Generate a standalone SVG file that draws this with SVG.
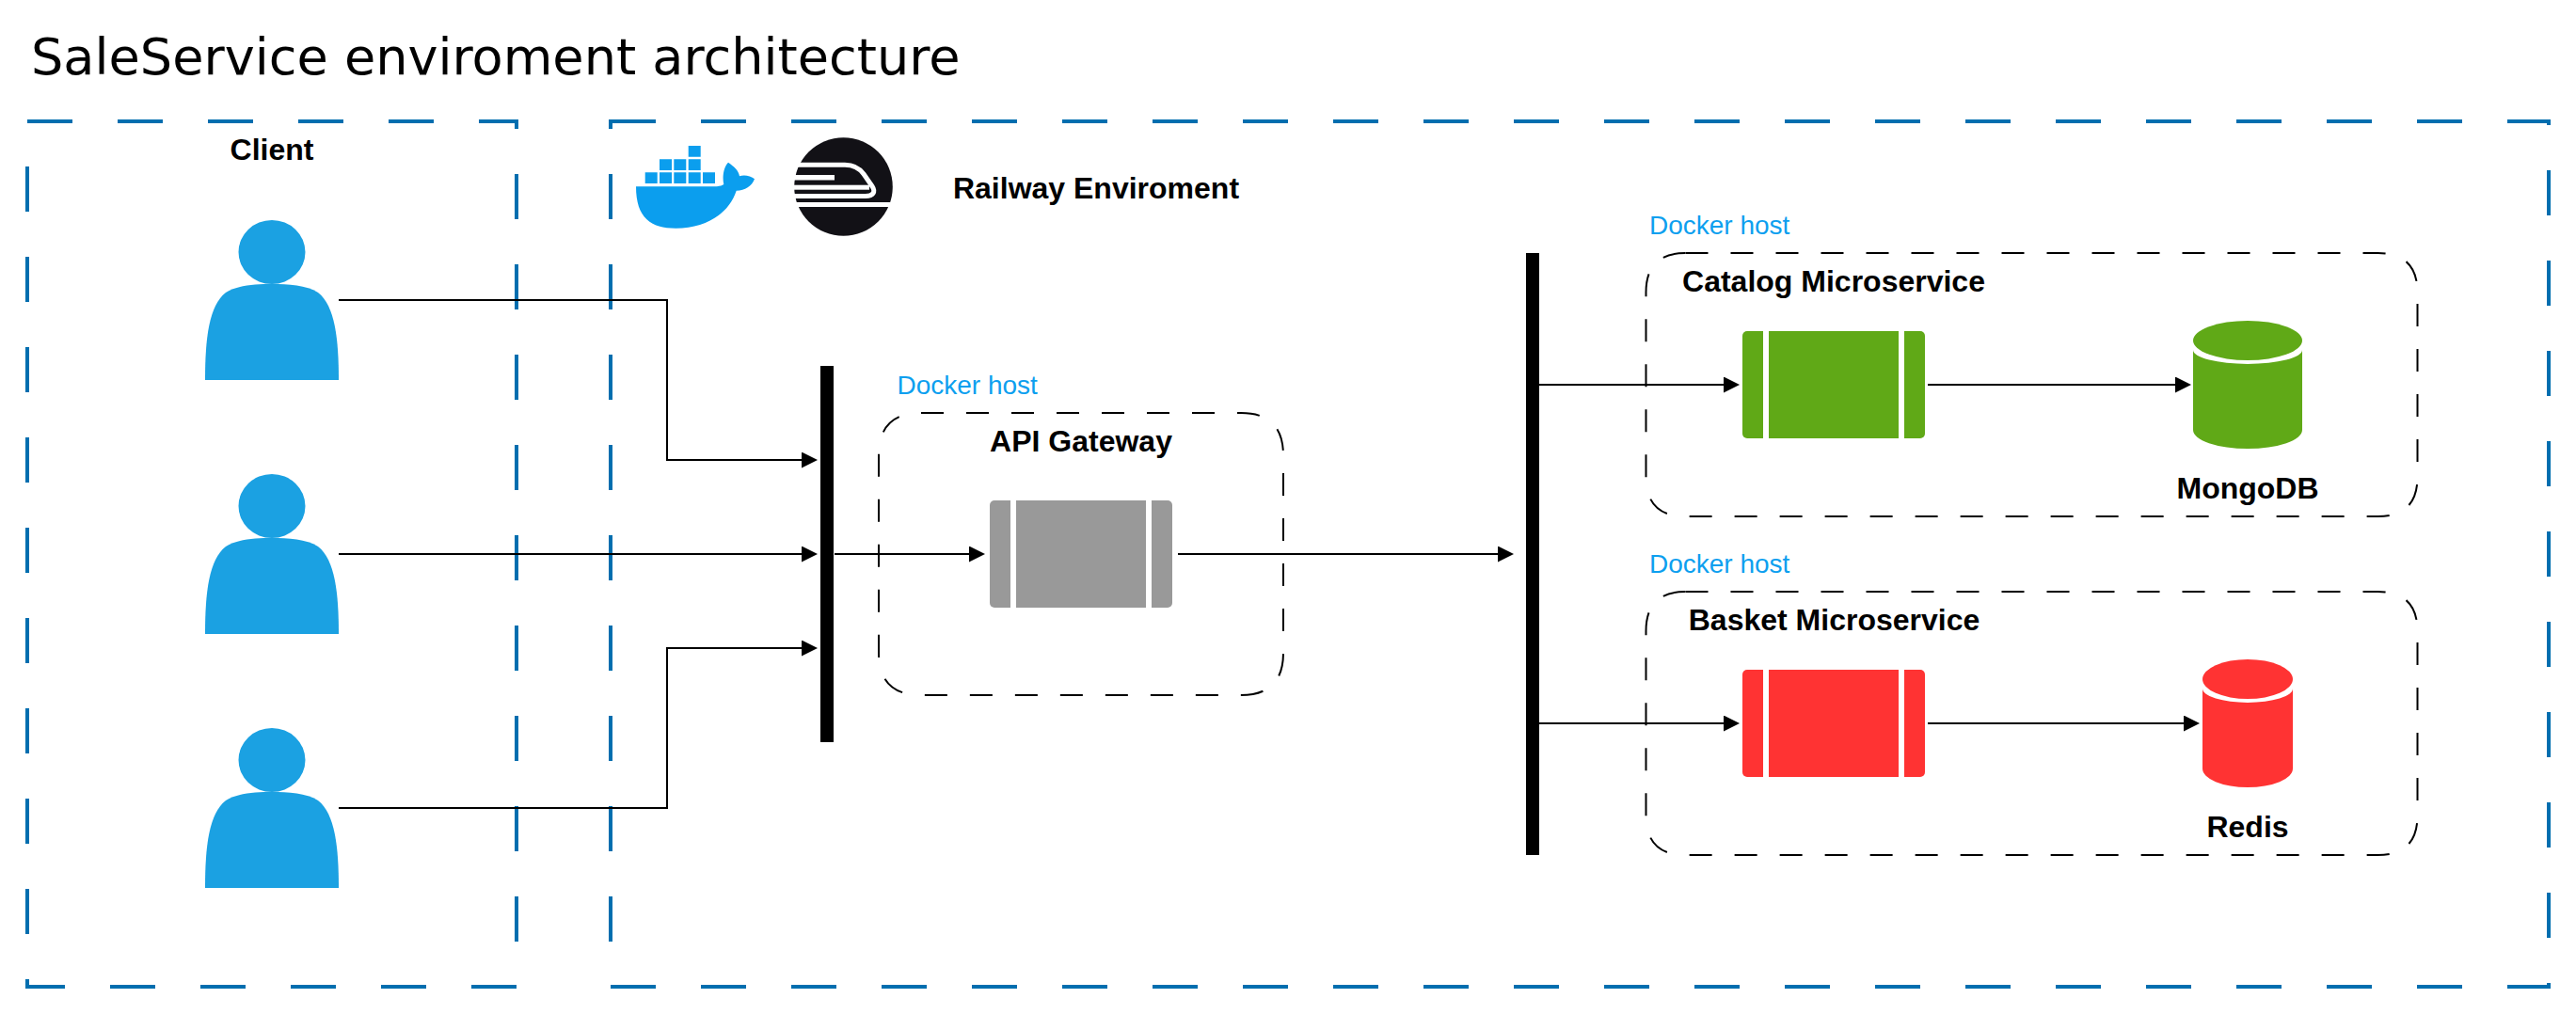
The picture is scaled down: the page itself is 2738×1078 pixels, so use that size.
<svg xmlns="http://www.w3.org/2000/svg" width="2738" height="1078" viewBox="0 0 2738 1078">
<style>
text{font-family:"Liberation Sans",Arial,sans-serif;fill:#000}
.b{font-weight:700;font-size:32px;text-anchor:middle}
.h{font-size:28px;fill:#0D9FEF}
.env{fill:none;stroke:#006EAF;stroke-width:4;stroke-dasharray:48 48}
.host{fill:none;stroke:#000;stroke-width:2;stroke-dasharray:24 24}
.person{fill:#1BA1E2}
.bar{fill:#000}
.strip{stroke:#fff;stroke-width:6}
.c{fill:none;stroke:#000;stroke-width:2;marker-end:url(#a)}
.rw{fill:none;stroke:#fff;stroke-width:5}
</style>
<defs>
<marker id="a" markerUnits="userSpaceOnUse" markerWidth="17" markerHeight="17" refX="15" refY="8.5" orient="auto"><path d="M0 0L17 8.5L0 17Z" fill="#000"/></marker>
<g id="p"><ellipse cx="289" cy="268" rx="35.5" ry="34"/><path d="M218 404C218 360 222 325 240 311C252 303 272 302 289 302C306 302 326 303 338 311C356 325 360 360 360 404Z"/></g>
</defs>
<rect width="2738" height="1078" fill="#fff"/>
<text id="title" x="33" y="79" style='font-family:"DejaVu Sans",Verdana,sans-serif;font-size:54.1px'>SaleService enviroment architecture</text>
<g id="client-env"><rect class="env" x="29" y="129" width="520" height="920"/><text class="b" x="289" y="170">Client</text></g>
<g id="railway-env"><rect class="env" x="649" y="129" width="2060" height="920"/><text class="b" x="1165" y="211">Railway Enviroment</text></g>
<g id="docker-logo" fill="#0B9EEE">
<path d="M685.7 183.3h13v11.7h-13zM701 183.3h13v11.7h-13zM716.3 183.3h13v11.7h-13zM731.7 183.3h13v11.7h-13zM747 183.3h13v11.7h-13zM701 169.3h13v11.7h-13zM716.3 169.3h13v11.7h-13zM731.7 169.3h13v11.7h-13zM731.7 155h13v11.7h-13z"/>
<path d="M676 198.3L758 198.3C764 198.3 767 197.5 769.3 196C767.5 188 769 178 774 172.7C780 177 785 181 786 187.3C790 185.5 798 186.5 802 190.3C799 198 792 202.7 782.7 202.7C775 226 752 242.7 718.3 242.7C692 242.7 676 232 676 198.3Z"/>
</g>
<g id="railway-logo">
<circle cx="896.5" cy="198.5" r="52.3" fill="#121116"/>
<path class="rw" d="M843 175.2H898C907 175.2 913 178 918 185L927 198C931 204 928 208.5 920 208.5H843"/>
<rect x="843" y="186" width="44" height="5.5" fill="#fff"/>
<rect x="843" y="196.7" width="81" height="5" fill="#fff"/>
<rect x="843" y="215" width="106" height="5" fill="#fff"/>
</g>
<g id="person-1" class="person"><use href="#p"/></g>
<g id="person-2" class="person"><use href="#p" y="270"/></g>
<g id="person-3" class="person"><use href="#p" y="540"/></g>
<g id="bar-1"><rect class="bar" x="872" y="389" width="14" height="400"/></g>
<g id="bar-2"><rect class="bar" x="1622" y="269" width="14" height="640"/></g>
<g id="gateway-host"><path class="host" d="M979 439H1319Q1364 439 1364 484V694Q1364 739 1319 739H979Q934 739 934 694V484Q934 439 979 439Z"/><text class="h" x="953.5" y="419">Docker host</text><text class="b" x="1149" y="480">API Gateway</text></g>
<g id="gateway"><rect x="1052" y="532" width="194" height="114" rx="5" fill="#999"/><path class="strip" d="M1077 532V646M1221 532V646"/></g>
<g id="catalog-host"><path class="host" d="M1792 269H2528Q2570 269 2570 311V507Q2570 549 2528 549H1792Q1750 549 1750 507V311Q1750 269 1792 269Z" transform="translate(-.5 0)"/><text class="h" x="1753" y="249">Docker host</text><text class="b" x="1949" y="310">Catalog Microservice</text></g>
<g id="catalog"><rect x="1852" y="352" width="194" height="114" rx="5" fill="#60A917"/><path class="strip" d="M1877 352V466M2021 352V466"/></g>
<g id="mongodb" fill="#60A917"><ellipse cx="2389" cy="362" rx="58" ry="21"/><path d="M2331 372A58 15 0 0 0 2447 372V457A58 20 0 0 1 2331 457Z"/><text class="b" x="2389" y="530">MongoDB</text></g>
<g id="basket-host"><path class="host" d="M1792 629H2528Q2570 629 2570 671V867Q2570 909 2528 909H1792Q1750 909 1750 867V671Q1750 629 1792 629Z" transform="translate(-.5 0)"/><text class="h" x="1753" y="609">Docker host</text><text class="b" x="1949.5" y="670">Basket Microservice</text></g>
<g id="basket"><rect x="1852" y="712" width="194" height="114" rx="5" fill="#FF3333"/><path class="strip" d="M1877 712V826M2021 712V826"/></g>
<g id="redis" fill="#FF3333"><ellipse cx="2389" cy="722" rx="48" ry="21"/><path d="M2341 732A48 15 0 0 0 2437 732V817A48 20 0 0 1 2341 817Z"/><text class="b" x="2389" y="890">Redis</text></g>
<g id="connectors">
<path class="c" d="M360 319H709V489H867"/>
<path class="c" d="M360 589H867"/>
<path class="c" d="M360 859H709V689H867"/>
<path class="c" d="M887 589H1045"/>
<path class="c" d="M1252 589H1607"/>
<path class="c" d="M1636 409H1847"/>
<path class="c" d="M2049 409H2327"/>
<path class="c" d="M1636 769H1847"/>
<path class="c" d="M2049 769H2336"/>
</g>
</svg>
